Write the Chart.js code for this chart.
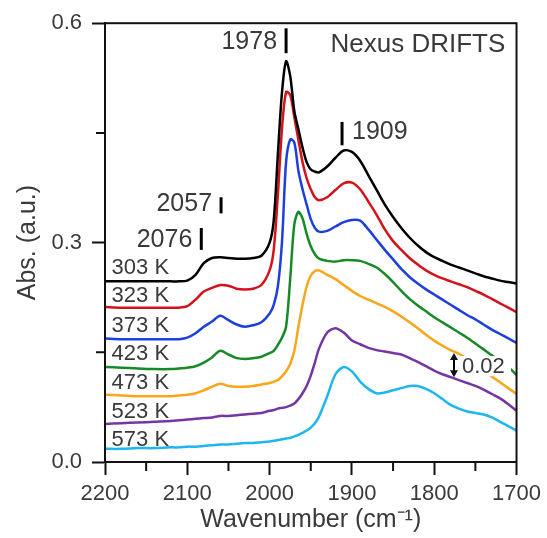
<!DOCTYPE html>
<html>
<head>
<meta charset="utf-8">
<script src="https://cdn.jsdelivr.net/npm/chart.js@4.4.1/dist/chart.umd.min.js"></script>
<style>
html,body{margin:0;padding:0;background:#fff;}
#wrap{width:547px;height:538px;}
</style>
</head>
<body>
<div id="wrap"><canvas id="drifts" width="547" height="538"></canvas></div>
<script>
// wavenumber grid (cm-1), shared by all spectra
const wavenumber = [2200,2180,2160,2140,2120,2110,2100,2090,2080,2070,
  2060,2050,2040,2030,2020,2010,2000,1995,1990,1985,
  1980,1975,1970,1965,1960,1955,1950,1945,1940,1930,
  1920,1910,1900,1890,1880,1870,1860,1850,1840,1830,
  1820,1810,1800,1790,1780,1770,1760,1750,1740,1730,
  1720,1710,1700];

// absorbance (a.u.)
const abs303 = [.247,.247,.247,.247,.247,.247,.248,.256,.272,.279,
  .280,.279,.278,.278,.279,.282,.300,.330,.420,.505,
  .548,.528,.480,.455,.430,.410,.400,.397,.396,.404,
  .416,.426,.424,.412,.392,.372,.352,.335,.320,.307,
  .296,.287,.280,.275,.270,.266,.262,.258,.254,.251,
  .248,.246,.244];
const abs323 = [.212,.211,.211,.211,.211,.211,.213,.222,.233,.238,
  .242,.241,.237,.236,.237,.242,.262,.290,.365,.455,
  .506,.502,.472,.440,.410,.388,.373,.362,.358,.362,
  .372,.381,.382,.373,.356,.338,.318,.302,.290,.279,
  .270,.262,.256,.251,.247,.243,.239,.234,.229,.223,
  .217,.211,.205];
const abs373 = [.169,.168,.168,.168,.168,.168,.170,.176,.185,.192,
  .200,.194,.188,.185,.187,.191,.203,.215,.240,.300,
  .410,.441,.437,.398,.373,.352,.332,.320,.315,.316,
  .322,.328,.331,.330,.318,.304,.290,.277,.264,.253,
  .244,.236,.229,.222,.215,.208,.201,.195,.188,.181,
  .175,.169,.163];
const abs423 = [.130,.129,.128,.127,.127,.128,.129,.131,.136,.143,
  .152,.147,.142,.141,.142,.144,.149,.152,.160,.170,
  .185,.250,.325,.342,.333,.312,.295,.284,.278,.275,
  .274,.276,.276,.275,.271,.266,.257,.246,.234,.223,
  .214,.206,.198,.191,.184,.177,.170,.162,.154,.146,
  .139,.130,.119];
const abs473 = [.092,.091,.090,.090,.090,.091,.092,.094,.098,.103,
  .107,.104,.103,.103,.104,.106,.108,.110,.112,.117,
  .124,.134,.152,.185,.215,.240,.255,.261,.262,.256,
  .250,.242,.234,.227,.222,.217,.212,.206,.199,.191,
  .183,.174,.166,.159,.153,.148,.141,.133,.125,.117,
  .109,.101,.093];
const abs523 = [.052,.053,.054,.055,.056,.057,.058,.059,.060,.061,
  .063,.063,.064,.065,.066,.067,.070,.071,.073,.074,
  .075,.077,.080,.086,.094,.104,.118,.136,.155,.177,
  .183,.177,.166,.161,.156,.153,.151,.149,.147,.142,
  .137,.131,.125,.120,.116,.112,.108,.104,.099,.093,
  .087,.079,.070];
const abs573 = [.018,.018,.019,.019,.020,.020,.021,.021,.022,.023,
  .024,.024,.025,.026,.026,.027,.028,.029,.030,.031,
  .032,.033,.035,.037,.040,.043,.047,.053,.062,.090,
  .120,.130,.124,.110,.100,.094,.095,.098,.101,.104,
  .104,.100,.094,.086,.078,.073,.069,.067,.065,.061,
  .055,.049,.043];

const temps = ['303 K','323 K','373 K','423 K','473 K','523 K','573 K'];
const spectra = [abs303, abs323, abs373, abs423, abs473, abs523, abs573];

const xTicks = [2200, 2100, 2000, 1900, 1800, 1700];
const yTicks = [0.0, 0.3, 0.6];

const colors = ['#000000','#d4121b','#1d3fdc','#168a26','#f9a61a','#7436a3','#1eb6ee'];

const FONT = "'Liberation Sans', Arial, sans-serif";
const INK = '#3a3a3a';

// annotations (wavenumber / absorbance)
const tempLabelY = [0.266, 0.227, 0.186, 0.148, 0.108, 0.068, 0.030];
const peakLabels = [
  {text:'1978', wn:1980, top:0.593, bot:0.559, ty:0.574, side:'left'},
  {text:'1909', wn:1912, top:0.465, bot:0.433, ty:0.451, side:'right'},
  {text:'2057', wn:2059, top:0.362, bot:0.340, ty:0.353, side:'left'},
  {text:'2076', wn:2083, top:0.320, bot:0.290, ty:0.303, side:'left'}
];
const scaleBar = {wn: 1776, top: 0.149, bot: 0.116, text: '0.02'};

const datasets = spectra.map((vals, i) => ({
  label: temps[i],
  data: vals.map((v, j) => ({x: wavenumber[j], y: v})),
  borderColor: colors[i],
  borderWidth: 2.5,
  pointRadius: 0,
  fill: false,
  tension: 0.3,
  order: i
}));

const overlay = {
  id: 'overlay',
  afterDatasetsDraw(chart) {
    const {ctx, chartArea: a, scales: {x, y}} = chart;
    ctx.save();
    ctx.strokeStyle = '#111';
    ctx.lineWidth = 2;
    ctx.strokeRect(a.left, a.top, a.right - a.left, a.bottom - a.top);

    // minor ticks
    ctx.beginPath();
    for (let w = 2150; w > 1700; w -= 100) {
      const px = x.getPixelForValue(w);
      ctx.moveTo(px, a.bottom); ctx.lineTo(px, a.bottom + 9);
    }
    [0.15, 0.45].forEach(v => {
      const py = y.getPixelForValue(v);
      ctx.moveTo(a.left, py); ctx.lineTo(a.left - 9, py);
    });
    ctx.stroke();

    ctx.fillStyle = INK;
    ctx.textBaseline = 'middle';

    // temperature labels
    ctx.font = '22px ' + FONT;
    ctx.textAlign = 'left';
    temps.forEach((t, i) => {
      ctx.fillText(t, x.getPixelForValue(2192), y.getPixelForValue(tempLabelY[i]));
    });

    // peak markers
    ctx.font = '25px ' + FONT;
    ctx.strokeStyle = '#000';
    ctx.lineWidth = 3;
    peakLabels.forEach(p => {
      const px = x.getPixelForValue(p.wn);
      ctx.beginPath();
      ctx.moveTo(px, y.getPixelForValue(p.top));
      ctx.lineTo(px, y.getPixelForValue(p.bot));
      ctx.stroke();
      ctx.textAlign = p.side === 'left' ? 'right' : 'left';
      ctx.fillText(p.text, p.side === 'left' ? px - 9 : px + 10, y.getPixelForValue(p.ty));
    });

    ctx.font = '26px ' + FONT;
    ctx.textAlign = 'left';
    ctx.fillText('Nexus DRIFTS', x.getPixelForValue(1926), y.getPixelForValue(0.570));

    // 0.02 scale bar
    const ax = x.getPixelForValue(scaleBar.wn);
    const y1 = y.getPixelForValue(scaleBar.top), y2 = y.getPixelForValue(scaleBar.bot);
    ctx.fillStyle = '#fff';
    ctx.fillRect(ax + 5, y1 + 3, 52, y2 - y1 - 4);
    ctx.fillStyle = '#111';
    ctx.lineWidth = 2;
    ctx.beginPath();
    ctx.moveTo(ax, y1 + 4); ctx.lineTo(ax, y2 - 4);
    ctx.stroke();
    ctx.beginPath();
    ctx.moveTo(ax, y1); ctx.lineTo(ax - 4, y1 + 7); ctx.lineTo(ax + 4, y1 + 7); ctx.closePath();
    ctx.moveTo(ax, y2); ctx.lineTo(ax - 4, y2 - 7); ctx.lineTo(ax + 4, y2 - 7); ctx.closePath();
    ctx.fill();
    ctx.fillStyle = INK;
    ctx.font = '22px ' + FONT;
    ctx.fillText(scaleBar.text, ax + 8, (y1 + y2) / 2 + 2);
    ctx.restore();
  }
};

new Chart(document.getElementById('drifts'), {
  type: 'line',
  data: {datasets: datasets},
  options: {
    responsive: false,
    animation: false,
    layout: {padding: {left: 0, top: 23, right: 27, bottom: 0}},
    plugins: {legend: {display: false}, tooltip: {enabled: false}},
    scales: {
      x: {
        type: 'linear',
        reverse: true,
        min: 1700,
        max: 2200,
        afterBuildTicks: s => { s.ticks = xTicks.map(v => ({value: v})); },
        afterFit: s => { s.height = 76; },
        grid: {drawOnChartArea: false, drawTicks: true, tickLength: 13, tickColor: '#111', tickWidth: 2},
        border: {color: '#111', width: 2},
        ticks: {color: INK, padding: 6, maxRotation: 0, font: {family: FONT, size: 22},
          callback: v => String(v)},
        title: {display: true, text: 'Wavenumber (cm\u207B\u00B9)', color: INK,
          font: {family: FONT, size: 25}, padding: {top: 0, bottom: 3}}
      },
      y: {
        type: 'linear',
        min: 0,
        max: 0.6,
        afterBuildTicks: s => { s.ticks = yTicks.map(v => ({value: v})); },
        afterFit: s => { s.width = 105; },
        grid: {drawOnChartArea: false, drawTicks: true, tickLength: 13, tickColor: '#111', tickWidth: 2},
        border: {color: '#111', width: 2},
        ticks: {color: INK, padding: 10, font: {family: FONT, size: 22},
          callback: v => v.toFixed(1)},
        title: {display: true, text: 'Abs. (a.u.)', color: INK,
          font: {family: FONT, size: 25}, padding: {top: 13, bottom: 0}}
      }
    }
  },
  plugins: [overlay]
});
</script>
</body>
</html>
